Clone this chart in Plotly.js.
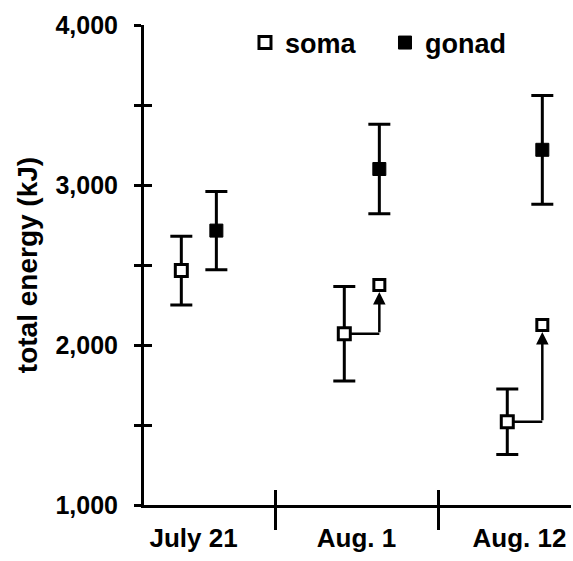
<!DOCTYPE html>
<html>
<head>
<meta charset="utf-8">
<script src="https://cdn.plot.ly/plotly-3.0.1.min.js"></script>
<style>html,body{margin:0;padding:0;background:#fff;}#chart{width:573px;height:561px;}</style>
</head>
<body>
<div id="chart"></div>
<script>
// ---- data ----
const categories = ['July 21', 'Aug. 1', 'Aug. 12'];
const somaMean = [2465, 2070, 1520];
const somaErr = [215, 295, 205];
const gonadMean = [2715, 3100, 3220];
const gonadErr = [245, 280, 340];
const somaProjected = [null, 2375, 2125];
const yTickVals = [1000, 1500, 2000, 2500, 3000, 3500, 4000];
const yTickText = ['1,000', '', '2,000', '', '3,000', '', '4,000'];

// ---- layout constants ----
const somaOffset = -0.075;
const gonadOffset = 0.14;
const FONT = 'Liberation Sans, Arial, Helvetica, sans-serif';
const idx = categories.map((c, i) => i);
const somaX = idx.map(i => i + somaOffset);
const gonadX = idx.map(i => i + gonadOffset);
const sepVals = idx.slice(1).map(i => i - 0.5);

const traces = [];
const annotations = [];

// connectors soma -> projected soma
idx.forEach(i => {
  if (somaProjected[i] == null) return;
  traces.push({
    x: [somaX[i], gonadX[i]], y: [somaMean[i], somaMean[i]],
    mode: 'lines', line: {color: '#000', width: 2.5},
    showlegend: false, hoverinfo: 'skip'
  });
  annotations.push({
    x: gonadX[i], y: somaProjected[i], xref: 'x', yref: 'y',
    ax: gonadX[i], ay: somaMean[i], axref: 'x', ayref: 'y',
    text: '', showarrow: true, arrowhead: 2, arrowsize: 1, arrowwidth: 2.5,
    arrowcolor: '#000', standoff: 7
  });
});

traces.push({
  name: 'soma', x: somaX, y: somaMean, mode: 'markers', type: 'scatter',
  error_y: {type: 'data', array: somaErr, visible: true, color: '#000', thickness: 3, width: 11},
  marker: {symbol: 'square', size: 12, color: '#fff', line: {color: '#000', width: 3}},
  hoverinfo: 'x+y'
});
traces.push({
  name: 'gonad', x: gonadX, y: gonadMean, mode: 'markers', type: 'scatter',
  error_y: {type: 'data', array: gonadErr, visible: true, color: '#000', thickness: 3, width: 11},
  marker: {symbol: 'square', size: 13, color: '#000', line: {color: '#000', width: 1}},
  hoverinfo: 'x+y'
});
traces.push({
  name: 'soma (projected)', x: gonadX, y: somaProjected, mode: 'markers', type: 'scatter',
  marker: {symbol: 'square', size: 11, color: '#fff', line: {color: '#000', width: 3}},
  showlegend: false, hoverinfo: 'x+y'
});
// carrier for the overlay axes (inside ticks)
traces.push({
  x: [0], y: [1000], xaxis: 'x2', yaxis: 'y2', mode: 'markers',
  marker: {opacity: 0}, showlegend: false, hoverinfo: 'skip'
});

const xRange = [-0.304, 2.316];
const yRange = [1000, 4000];

const layout = {
  width: 573, height: 561,
  margin: {l: 144, r: 2, t: 25, b: 56},
  paper_bgcolor: '#fff', plot_bgcolor: '#fff',
  font: {family: FONT, color: '#000', weight: 'bold'},
  showlegend: true,
  legend: {
    orientation: 'h', x: 0.2365, xanchor: 'left', y: 0.9625, yanchor: 'middle',
    font: {family: FONT, size: 27, color: '#000', weight: 'bold'},
    bgcolor: 'rgba(0,0,0,0)', borderwidth: 0, itemwidth: 30,
    entrywidth: 95, entrywidthmode: 'pixels', traceorder: 'normal'
  },
  xaxis: {
    range: xRange, showgrid: false, zeroline: false,
    showline: true, linecolor: '#000', linewidth: 3,
    tickmode: 'array', tickvals: idx, ticktext: categories,
    ticks: '', ticklabelstandoff: 8,
    tickfont: {family: FONT, size: 26, color: '#000', weight: 'bold'},
    minor: {tickmode: 'array', tickvals: sepVals, ticks: 'outside', ticklen: 22, tickwidth: 3, tickcolor: '#000', showgrid: false},
    fixedrange: true
  },
  xaxis2: {
    range: xRange, overlaying: 'x', anchor: 'y2', side: 'bottom',
    showgrid: false, zeroline: false, showline: false,
    tickmode: 'array', tickvals: sepVals, ticks: 'inside', ticklen: 15, tickwidth: 3, tickcolor: '#000',
    showticklabels: false, fixedrange: true
  },
  yaxis: {
    range: yRange, showgrid: false, zeroline: false,
    showline: true, linecolor: '#000', linewidth: 3,
    tickmode: 'array', tickvals: yTickVals, ticktext: yTickText,
    ticks: 'outside', ticklen: 7, tickwidth: 3, tickcolor: '#000', ticklabelstandoff: 11,
    tickfont: {family: FONT, size: 25, color: '#000', weight: 'bold'},
    title: {text: 'total energy (kJ)', font: {family: FONT, size: 28, color: '#000', weight: 'bold'}, standoff: 10},
    automargin: false, fixedrange: true
  },
  yaxis2: {
    range: yRange, overlaying: 'y', anchor: 'x2', side: 'left',
    showgrid: false, zeroline: false, showline: false,
    tickmode: 'array', tickvals: yTickVals, ticks: 'inside', ticklen: 8, tickwidth: 3, tickcolor: '#000',
    showticklabels: false, fixedrange: true
  },
  annotations: annotations
};

Plotly.newPlot('chart', traces, layout, {displayModeBar: false, staticPlot: true});
</script>
</body>
</html>
